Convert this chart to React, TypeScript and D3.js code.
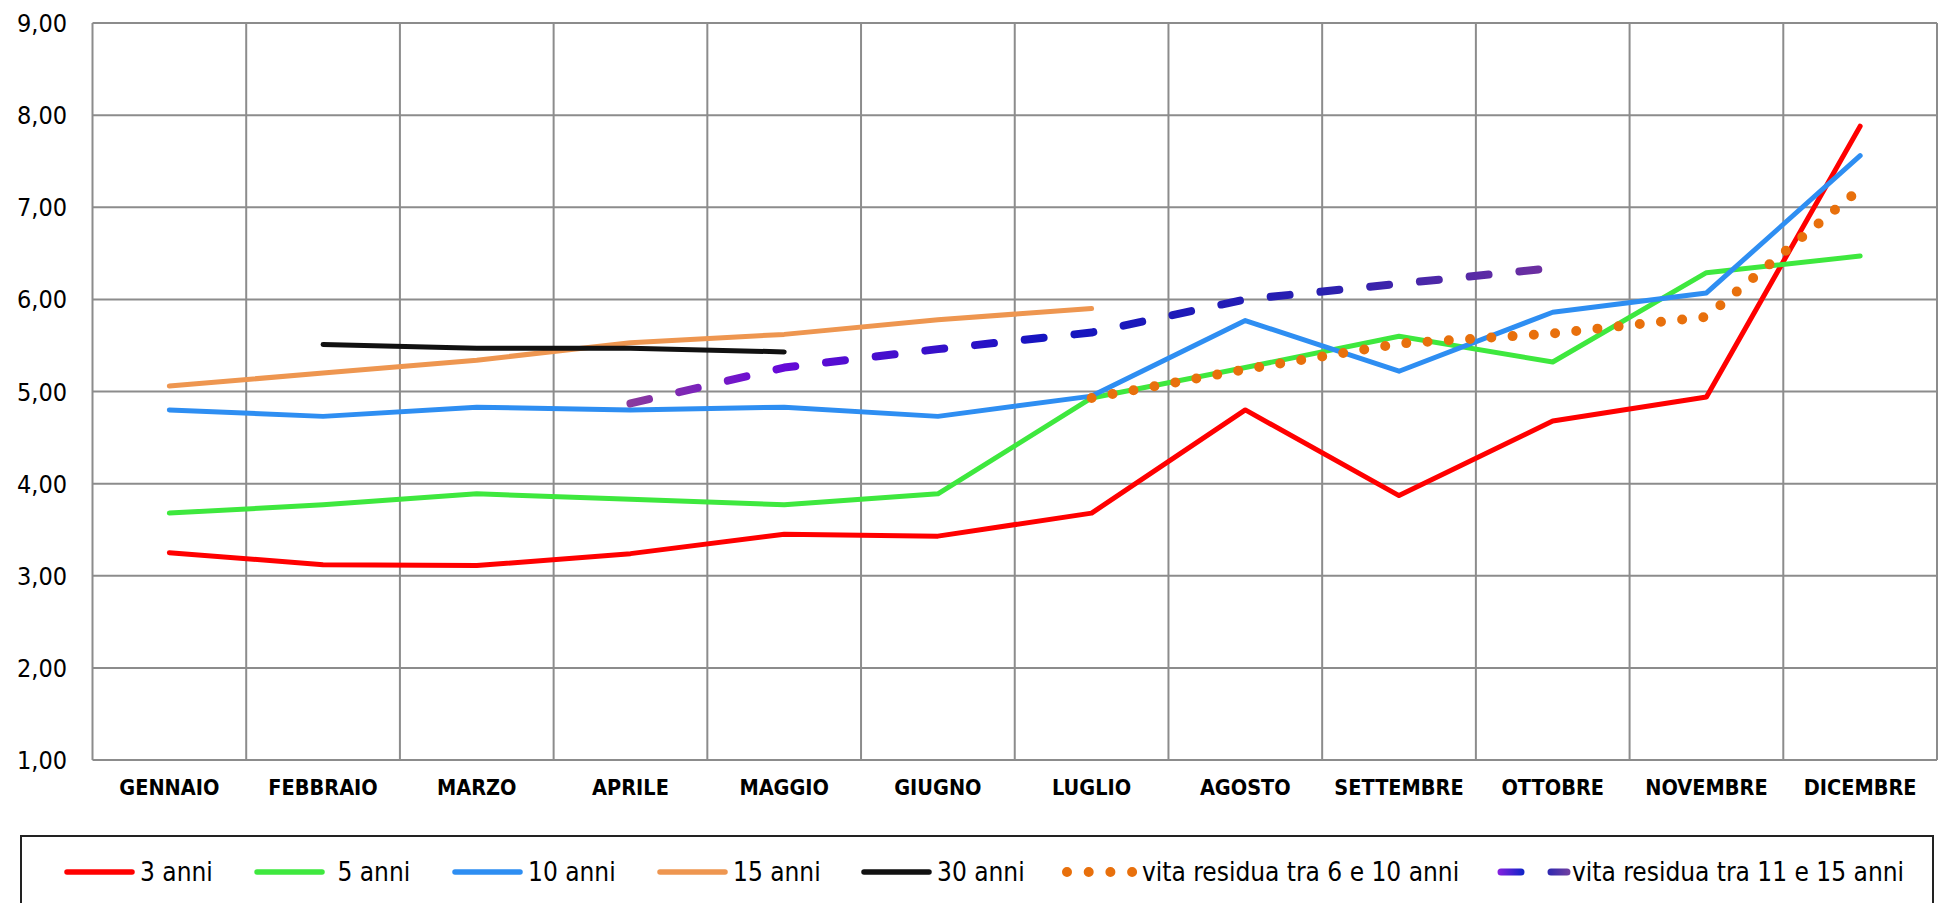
import React, { useEffect, useRef } from 'react';
import * as d3 from 'd3';

const months = [
  'GENNAIO', 'FEBBRAIO', 'MARZO', 'APRILE', 'MAGGIO', 'GIUGNO',
  'LUGLIO', 'AGOSTO', 'SETTEMBRE', 'OTTOBRE', 'NOVEMBRE', 'DICEMBRE',
];

const yTicks = [1, 2, 3, 4, 5, 6, 7, 8, 9];

const anni3 = [3.25, 3.12, 3.11, 3.24, 3.45, 3.43, 3.68, 4.80, 3.87, 4.68, 4.94, 7.88];
const anni5 = [3.68, 3.77, 3.89, 3.83, 3.77, 3.89, 4.93, 5.26, 5.60, 5.32, 6.29, 6.47];
const anni10 = [4.80, 4.73, 4.83, 4.80, 4.83, 4.73, 4.95, 5.77, 5.22, 5.86, 6.07, 7.56];
const anni15 = [5.06, 5.20, 5.34, 5.53, 5.62, 5.78, 5.90, null, null, null, null, null];
const anni30 = [null, 5.51, 5.47, 5.47, 5.43, null, null, null, null, null, null, null];
const residua6_10 = [null, null, null, null, null, null, 4.93, 5.24, 5.52, 5.63, 5.81, 7.20];
const residua11_15 = [null, null, null, 4.87, 5.26, 5.46, 5.64, 6.00, 6.17, 6.34, null, null];

type Val = number | null;

interface Series {
  name: string;
  values: Val[];
  color: string;
  kind: 'solid' | 'dots' | 'dashes';
}

const series: Series[] = [
  { name: '3 anni', values: anni3, color: '#ff0000', kind: 'solid' },
  { name: ' 5 anni', values: anni5, color: '#3ee83e', kind: 'solid' },
  { name: '10 anni', values: anni10, color: '#2e8ef2', kind: 'solid' },
  { name: '15 anni', values: anni15, color: '#ee9650', kind: 'solid' },
  { name: '30 anni', values: anni30, color: '#111111', kind: 'solid' },
  { name: 'vita residua tra 6 e 10 anni', values: residua6_10, color: '#e8700c', kind: 'dots' },
  { name: 'vita residua tra 11 e 15 anni', values: residua11_15, color: 'url(#dashGrad)', kind: 'dashes' },
];

const WIDTH = 1938;
const HEIGHT = 903;
const FONT = '"DejaVu Sans Condensed", "DejaVu Sans", sans-serif';

export default function App() {
  const svgRef = useRef<SVGSVGElement>(null);

  useEffect(() => {
    if (!svgRef.current) return;
    const svg = d3.select(svgRef.current);
    svg.selectAll('*').remove();

    const plot = { left: 92.5, right: 1937, top: 23, bottom: 760 };

    const x = d3.scaleBand<string>().domain(months).range([plot.left, plot.right]);
    const y = d3.scaleLinear().domain([1, 9]).range([plot.bottom, plot.top]);
    const cx = (i: number) => (x(months[i]) as number) + x.bandwidth() / 2;

    // gradient for the dashed series
    const defs = svg.append('defs');
    const grad = defs.append('linearGradient')
      .attr('id', 'dashGrad')
      .attr('gradientUnits', 'userSpaceOnUse')
      .attr('x1', cx(3)).attr('x2', cx(9))
      .attr('y1', 0).attr('y2', 0);
    grad.append('stop').attr('offset', '0%').attr('stop-color', '#8a3a9e');
    grad.append('stop').attr('offset', '15%').attr('stop-color', '#6a0ad8');
    grad.append('stop').attr('offset', '45%').attr('stop-color', '#1414c0');
    grad.append('stop').attr('offset', '75%').attr('stop-color', '#2a20b0');
    grad.append('stop').attr('offset', '100%').attr('stop-color', '#7030a0');

    const lg = defs.append('linearGradient')
      .attr('id', 'legGrad')
      .attr('gradientUnits', 'userSpaceOnUse')
      .attr('x1', 1497).attr('x2', 1570)
      .attr('y1', 0).attr('y2', 0);
    lg.append('stop').attr('offset', '0%').attr('stop-color', '#8a20e0');
    lg.append('stop').attr('offset', '35%').attr('stop-color', '#1424c8');
    lg.append('stop').attr('offset', '70%').attr('stop-color', '#3028b0');
    lg.append('stop').attr('offset', '100%').attr('stop-color', '#7040a0');

    // grid
    const grid = svg.append('g').attr('stroke', '#8c8c8c').attr('stroke-width', 2);
    grid.selectAll('line.h')
      .data(yTicks)
      .join('line')
      .attr('x1', plot.left).attr('x2', plot.right)
      .attr('y1', d => y(d)).attr('y2', d => y(d));
    const vlines = months.map(m => x(m) as number).concat([plot.right]);
    grid.selectAll('line.v')
      .data(vlines)
      .join('line')
      .attr('x1', d => d).attr('x2', d => d)
      .attr('y1', plot.top).attr('y2', plot.bottom);

    // y labels
    svg.append('g')
      .selectAll('text')
      .data(yTicks)
      .join('text')
      .attr('x', 67)
      .attr('y', d => y(d))
      .attr('dy', '0.36em')
      .attr('text-anchor', 'end')
      .attr('font-family', FONT)
      .attr('font-size', 25)
      .attr('fill', '#000')
      .text(d => d.toFixed(2).replace('.', ','));

    // x labels
    svg.append('g')
      .selectAll('text')
      .data(months)
      .join('text')
      .attr('x', (_d, i) => cx(i))
      .attr('y', 795)
      .attr('text-anchor', 'middle')
      .attr('font-family', FONT)
      .attr('font-weight', 'bold')
      .attr('font-size', 21.5)
      .attr('fill', '#000')
      .text(d => d);

    // series
    const line = d3.line<Val>()
      .defined(d => d !== null)
      .x((_d, i) => cx(i))
      .y(d => y(d as number));

    series.forEach(s => {
      const p = svg.append('path')
        .datum(s.values)
        .attr('fill', 'none')
        .attr('stroke', s.color)
        .attr('stroke-linecap', 'round')
        .attr('stroke-linejoin', 'round')
        .attr('d', line);
      if (s.kind === 'solid') p.attr('stroke-width', 5);
      if (s.kind === 'dots') p.attr('stroke-width', 10).attr('stroke-dasharray', '0 21.3');
      if (s.kind === 'dashes') p.attr('stroke-width', 8).attr('stroke-dasharray', '19 31');
    });

    // legend
    svg.append('rect')
      .attr('x', 21).attr('y', 836)
      .attr('width', 1912).attr('height', 80)
      .attr('fill', 'none')
      .attr('stroke', '#222')
      .attr('stroke-width', 2);

    const legX = [64, 254, 452, 657, 861, 1067, 1497];
    const legY = 872;
    const leg = svg.append('g');
    series.forEach((s, i) => {
      const x0 = legX[i];
      if (s.kind === 'solid') {
        leg.append('line')
          .attr('x1', x0 + 3).attr('x2', x0 + 68)
          .attr('y1', legY).attr('y2', legY)
          .attr('stroke', s.color).attr('stroke-width', 5.5)
          .attr('stroke-linecap', 'round');
      } else if (s.kind === 'dots') {
        leg.append('line')
          .attr('x1', x0).attr('x2', x0 + 66)
          .attr('y1', legY).attr('y2', legY)
          .attr('stroke', s.color).attr('stroke-width', 10)
          .attr('stroke-linecap', 'round')
          .attr('stroke-dasharray', '0 21.7');
      } else {
        leg.append('line')
          .attr('x1', x0 + 4).attr('x2', x0 + 70)
          .attr('y1', legY).attr('y2', legY)
          .attr('stroke', 'url(#legGrad)').attr('stroke-width', 7)
          .attr('stroke-linecap', 'round')
          .attr('stroke-dasharray', '20 30');
      }
      const textX = s.kind === 'solid' ? x0 + 76 : s.kind === 'dots' ? x0 + 75 : x0 + 75;
      leg.append('text')
        .attr('x', textX)
        .attr('y', legY)
        .attr('dy', '0.36em')
        .attr('font-family', FONT)
        .attr('font-size', 26)
        .attr('fill', '#000')
        .attr('xml:space', 'preserve')
        .style('white-space', 'pre')
        .text(s.name);
    });
  }, []);

  return (
    <div style={{ position: 'absolute', left: 0, top: 0 }}>
      <svg ref={svgRef} width={WIDTH} height={HEIGHT} style={{ display: 'block', background: '#fff' }} />
    </div>
  );
}
